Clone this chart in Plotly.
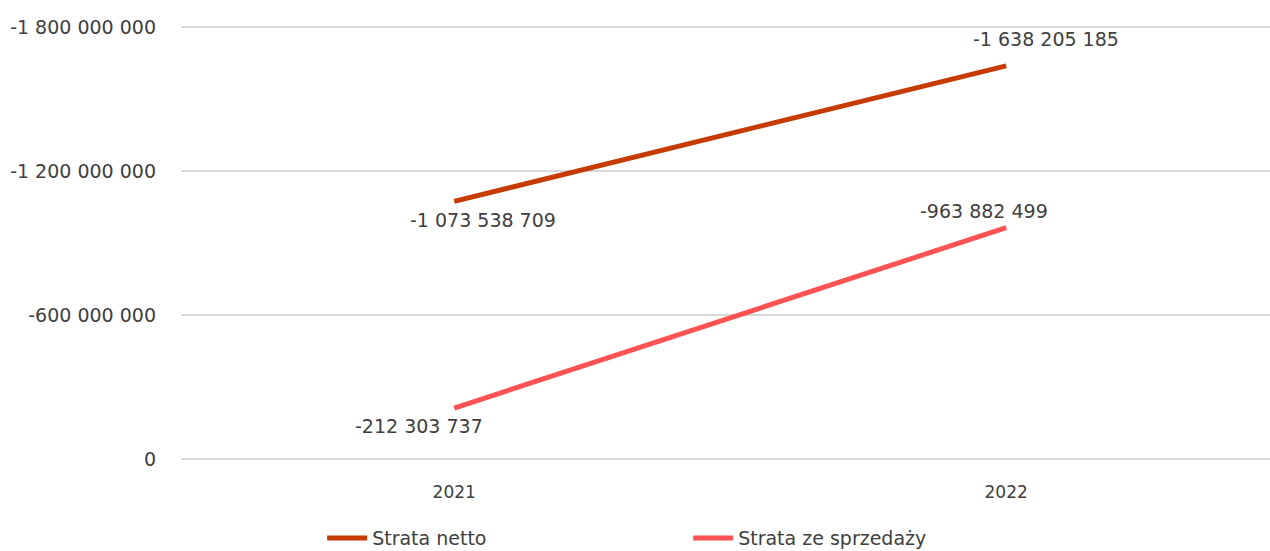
import plotly.graph_objects as go

years = ["2021", "2022"]
strata_netto = [-1073538709, -1638205185]
strata_sprzedaz = [-212303737, -963882499]
series_names = ["Strata netto", "Strata ze sprzedaży"]
y_ticks = [0, -600000000, -1200000000, -1800000000]

dark = "#C63C00"
light = "#FF5252"
txt = "#404040"
font_family = "DejaVu Sans"


def fmt(v):
    s = f"{abs(v):,}".replace(",", " ")
    return ("-" if v < 0 else "") + s


fig = go.Figure()
fig.add_trace(go.Scatter(x=[0, 1], y=strata_netto, mode="lines", name=series_names[0],
                         line=dict(color=dark, width=5)))
fig.add_trace(go.Scatter(x=[0, 1], y=strata_sprzedaz, mode="lines", name=series_names[1],
                         line=dict(color=light, width=5)))

# data labels (offsets in pixels relative to each point)
offsets = {
    (0, 0): (29, 19), (0, 1): (40, -27),
    (1, 0): (-35, 18), (1, 1): (-22, -17),
}
for si, vals in enumerate([strata_netto, strata_sprzedaz]):
    for xi, v in enumerate(vals):
        dx, dy = offsets[(si, xi)]
        fig.add_annotation(x=xi, y=v, text=fmt(v), showarrow=False,
                           xshift=dx, yshift=-dy,
                           font=dict(family=font_family, size=19, color=txt))

pad = 12.5e6  # small overshoot so edge gridlines stay visible
fig.update_layout(
    width=1270, height=551,
    margin=dict(l=181, r=0, t=24, b=89, autoexpand=False),
    paper_bgcolor="white", plot_bgcolor="white",
    font=dict(family=font_family, size=18, color=txt),
    showlegend=True,
    legend=dict(orientation="h", x=0.1296, xanchor="left", y=-0.174, yanchor="middle",
                entrywidth=311, entrywidthmode="pixels", itemwidth=40,
                font=dict(family=font_family, size=19, color=txt)),
)
fig.update_xaxes(range=[-0.495, 1.478], tickvals=[0, 1], ticktext=years,
                 showgrid=False, zeroline=False, showline=False, ticks="",
                 tickfont=dict(size=17), ticklabelstandoff=18)
fig.update_yaxes(range=[pad, -1800000000 - pad], tickvals=y_ticks,
                 ticktext=[fmt(t) for t in y_ticks],
                 showgrid=True, gridcolor="#D9D9D9", gridwidth=2,
                 zeroline=False, showline=False, ticks="",
                 ticklabelstandoff=24, tickfont=dict(size=19))

fig.write_html("out.html")
